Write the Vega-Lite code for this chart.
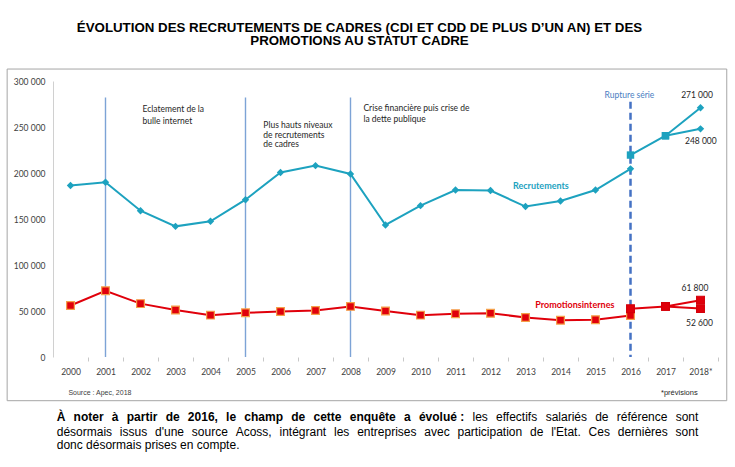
{
  "$schema": "https://vega.github.io/schema/vega-lite/v6.json",
  "width": 665,
  "height": 276,
  "autosize": {"type": "none"},
  "padding": {"left": 53, "top": 81, "right": 17, "bottom": 110},
  "background": "white",
  "title": {
    "text": ["ÉVOLUTION DES RECRUTEMENTS DE CADRES (CDI ET CDD DE PLUS D’UN AN) ET DES", "PROMOTIONS AU STATUT CADRE"],
    "font": "Liberation Sans",
    "fontSize": 13.3,
    "fontWeight": "bold",
    "color": "#000000",
    "anchor": "middle",
    "frame": "group",
    "dx": -26,
    "offset": 21,
    "lineHeight": 13.5
  },
  "config": {
    "view": {"stroke": null},
    "font": "Lato",
    "axisX": {
      "labelOverlap": false,
      "labelFlush": false,
      "labelFont": "Lato",
      "labelFontSize": 8.5,
      "labelColor": "#404040",
      "labelPadding": 6,
      "domain": false,
      "grid": false,
      "ticks": true,
      "tickColor": "#C8C8C8",
      "tickSize": 4,
      "tickOffset": 17.5,
      "labelOffset": -17.5
    },
    "axisY": {
      "labelOverlap": false,
      "labelFont": "Lato",
      "labelFontSize": 8.5,
      "labelColor": "#404040",
      "labelPadding": 8,
      "ticks": false,
      "tickSize": 0,
      "grid": false,
      "domain": true,
      "domainColor": "#D0D0D0"
    }
  },
  "datasets": {
    "series": [
      {"annee": 2000, "valeur": 186500, "indicateur": "Recrutements", "serie": "ancienne série", "trace": "R-a"},
      {"annee": 2001, "valeur": 190000, "indicateur": "Recrutements", "serie": "ancienne série", "trace": "R-a"},
      {"annee": 2002, "valeur": 159000, "indicateur": "Recrutements", "serie": "ancienne série", "trace": "R-a"},
      {"annee": 2003, "valeur": 142000, "indicateur": "Recrutements", "serie": "ancienne série", "trace": "R-a"},
      {"annee": 2004, "valeur": 147500, "indicateur": "Recrutements", "serie": "ancienne série", "trace": "R-a"},
      {"annee": 2005, "valeur": 171000, "indicateur": "Recrutements", "serie": "ancienne série", "trace": "R-a"},
      {"annee": 2006, "valeur": 200500, "indicateur": "Recrutements", "serie": "ancienne série", "trace": "R-a"},
      {"annee": 2007, "valeur": 208000, "indicateur": "Recrutements", "serie": "ancienne série", "trace": "R-a"},
      {"annee": 2008, "valeur": 199000, "indicateur": "Recrutements", "serie": "ancienne série", "trace": "R-a"},
      {"annee": 2009, "valeur": 143500, "indicateur": "Recrutements", "serie": "ancienne série", "trace": "R-a"},
      {"annee": 2010, "valeur": 164500, "indicateur": "Recrutements", "serie": "ancienne série", "trace": "R-a"},
      {"annee": 2011, "valeur": 181500, "indicateur": "Recrutements", "serie": "ancienne série", "trace": "R-a"},
      {"annee": 2012, "valeur": 181000, "indicateur": "Recrutements", "serie": "ancienne série", "trace": "R-a"},
      {"annee": 2013, "valeur": 163500, "indicateur": "Recrutements", "serie": "ancienne série", "trace": "R-a"},
      {"annee": 2014, "valeur": 169500, "indicateur": "Recrutements", "serie": "ancienne série", "trace": "R-a"},
      {"annee": 2015, "valeur": 181500, "indicateur": "Recrutements", "serie": "ancienne série", "trace": "R-a"},
      {"annee": 2016, "valeur": 204500, "indicateur": "Recrutements", "serie": "ancienne série", "trace": "R-a"},
      {"annee": 2016, "valeur": 219500, "indicateur": "Recrutements", "serie": "nouvelle série", "trace": "R-b"},
      {"annee": 2017, "valeur": 240500, "indicateur": "Recrutements", "serie": "nouvelle série", "trace": "R-b"},
      {"annee": 2018, "valeur": 271000, "indicateur": "Recrutements", "serie": "prévision", "trace": "R-b"},
      {"annee": 2017, "valeur": 240500, "indicateur": "Recrutements", "serie": "nouvelle série", "trace": "R-c"},
      {"annee": 2018, "valeur": 248000, "indicateur": "Recrutements", "serie": "prévision", "trace": "R-c"},
      {"annee": 2000, "valeur": 56000, "indicateur": "Promotions internes", "serie": "ancienne série", "trace": "P-a"},
      {"annee": 2001, "valeur": 72000, "indicateur": "Promotions internes", "serie": "ancienne série", "trace": "P-a"},
      {"annee": 2002, "valeur": 58000, "indicateur": "Promotions internes", "serie": "ancienne série", "trace": "P-a"},
      {"annee": 2003, "valeur": 51000, "indicateur": "Promotions internes", "serie": "ancienne série", "trace": "P-a"},
      {"annee": 2004, "valeur": 45500, "indicateur": "Promotions internes", "serie": "ancienne série", "trace": "P-a"},
      {"annee": 2005, "valeur": 48000, "indicateur": "Promotions internes", "serie": "ancienne série", "trace": "P-a"},
      {"annee": 2006, "valeur": 49500, "indicateur": "Promotions internes", "serie": "ancienne série", "trace": "P-a"},
      {"annee": 2007, "valeur": 50500, "indicateur": "Promotions internes", "serie": "ancienne série", "trace": "P-a"},
      {"annee": 2008, "valeur": 55000, "indicateur": "Promotions internes", "serie": "ancienne série", "trace": "P-a"},
      {"annee": 2009, "valeur": 50000, "indicateur": "Promotions internes", "serie": "ancienne série", "trace": "P-a"},
      {"annee": 2010, "valeur": 45500, "indicateur": "Promotions internes", "serie": "ancienne série", "trace": "P-a"},
      {"annee": 2011, "valeur": 47000, "indicateur": "Promotions internes", "serie": "ancienne série", "trace": "P-a"},
      {"annee": 2012, "valeur": 47500, "indicateur": "Promotions internes", "serie": "ancienne série", "trace": "P-a"},
      {"annee": 2013, "valeur": 43000, "indicateur": "Promotions internes", "serie": "ancienne série", "trace": "P-a"},
      {"annee": 2014, "valeur": 40000, "indicateur": "Promotions internes", "serie": "ancienne série", "trace": "P-a"},
      {"annee": 2015, "valeur": 40500, "indicateur": "Promotions internes", "serie": "ancienne série", "trace": "P-a"},
      {"annee": 2016, "valeur": 45000, "indicateur": "Promotions internes", "serie": "ancienne série", "trace": "P-a"},
      {"annee": 2016, "valeur": 52500, "indicateur": "Promotions internes", "serie": "nouvelle série", "trace": "P-b"},
      {"annee": 2017, "valeur": 55000, "indicateur": "Promotions internes", "serie": "nouvelle série", "trace": "P-b"},
      {"annee": 2018, "valeur": 61800, "indicateur": "Promotions internes", "serie": "prévision", "trace": "P-b"},
      {"annee": 2017, "valeur": 55000, "indicateur": "Promotions internes", "serie": "nouvelle série", "trace": "P-c"},
      {"annee": 2018, "valeur": 52600, "indicateur": "Promotions internes", "serie": "prévision", "trace": "P-c"}
    ],
    "evenements": [
      {"annee": 2001, "haut": 282000, "bas": 0},
      {"annee": 2005, "haut": 282000, "bas": 0},
      {"annee": 2008, "haut": 282000, "bas": 0}
    ],
    "rupture": [{"annee": 2016, "haut": 277500, "bas": 0}],
    "textes_evenements": [
      {"annee": 2002.06, "valeur": 273400, "texte": "Eclatement de la\nbulle internet"},
      {"annee": 2008.37, "valeur": 275500, "texte": "Crise financière puis crise de\nla dette publique"}
    ],
    "texte_pic": [
      {"annee": 2005.51, "valeur": 256000, "texte": "Plus hauts niveaux\nde recrutements\nde cadres"}
    ],
    "valeurs_2018": [
      {"annee": 2017.9, "valeur": 284800, "texte": "271 000"},
      {"annee": 2018.01, "valeur": 234800, "texte": "248 000"},
      {"annee": 2017.84, "valeur": 75300, "texte": "61 800"},
      {"annee": 2017.97, "valeur": 37300, "texte": "52 600"}
    ],
    "etiquettes_series": [
      {"annee": 2013.44, "valeur": 186200, "texte": "Recrutements", "indicateur": "Recrutements"},
      {"annee": 2014.41, "valeur": 56500, "texte": "Promotionsinternes", "indicateur": "Promotions internes"}
    ],
    "note_gras": [
      {"annee": 1999.606, "valeur": -64900, "texte": "À"},
      {"annee": 2000.088, "valeur": -64900, "texte": "noter"},
      {"annee": 2001.181, "valeur": -64900, "texte": "à"},
      {"annee": 2001.607, "valeur": -64900, "texte": "partir"},
      {"annee": 2002.718, "valeur": -64900, "texte": "de"},
      {"annee": 2003.353, "valeur": -64900, "texte": "2016,"},
      {"annee": 2004.446, "valeur": -64900, "texte": "le"},
      {"annee": 2004.967, "valeur": -64900, "texte": "champ"},
      {"annee": 2006.307, "valeur": -64900, "texte": "de"},
      {"annee": 2006.943, "valeur": -64900, "texte": "cette"},
      {"annee": 2007.978, "valeur": -64900, "texte": "enquête"},
      {"annee": 2009.528, "valeur": -64900, "texte": "a"},
      {"annee": 2009.954, "valeur": -64900, "texte": "évolué"},
      {"annee": 2011.135, "valeur": -64900, "texte": ":"}
    ],
    "note_normal": [
      {"annee": 2011.485, "valeur": -64900, "texte": "les"},
      {"annee": 2012.158, "valeur": -64900, "texte": "effectifs"},
      {"annee": 2013.575, "valeur": -64900, "texte": "salariés"},
      {"annee": 2014.991, "valeur": -64900, "texte": "de"},
      {"annee": 2015.607, "valeur": -64900, "texte": "référence"},
      {"annee": 2017.291, "valeur": -64900, "texte": "sont"},
      {"annee": 1999.606, "valeur": -81200, "texte": "désormais"},
      {"annee": 2001.409, "valeur": -81200, "texte": "issus"},
      {"annee": 2002.415, "valeur": -81200, "texte": "d'une"},
      {"annee": 2003.466, "valeur": -81200, "texte": "source"},
      {"annee": 2004.719, "valeur": -81200, "texte": "Acoss,"},
      {"annee": 2005.971, "valeur": -81200, "texte": "intégrant"},
      {"annee": 2007.528, "valeur": -81200, "texte": "les"},
      {"annee": 2008.190, "valeur": -81200, "texte": "entreprises"},
      {"annee": 2010.109, "valeur": -81200, "texte": "avec"},
      {"annee": 2011.057, "valeur": -81200, "texte": "participation"},
      {"annee": 2013.128, "valeur": -81200, "texte": "de"},
      {"annee": 2013.733, "valeur": -81200, "texte": "l'Etat."},
      {"annee": 2014.803, "valeur": -81200, "texte": "Ces"},
      {"annee": 2015.636, "valeur": -81200, "texte": "dernières"},
      {"annee": 2017.289, "valeur": -81200, "texte": "sont"},
      {"annee": 1999.606, "valeur": -95600, "texte": "donc désormais prises en compte."}
    ],
    "vide": [{}]
  },
  "layer": [
    {
      "data": {"name": "evenements"},
      "mark": {"type": "rule", "color": "#7DA3D6", "strokeWidth": 1.4},
      "encoding": {
        "x": {
          "field": "annee",
          "type": "quantitative",
          "scale": {"domain": [1999.5, 2018.5], "nice": false, "zero": false},
          "axis": {
            "title": null,
            "values": [2000, 2001, 2002, 2003, 2004, 2005, 2006, 2007, 2008, 2009, 2010, 2011, 2012, 2013, 2014, 2015, 2016, 2017, 2018],
            "tickCount": 19,
            "labelOverlap": false,
            "labelExpr": "datum.value === 2018 ? '2018*' : '' + datum.value"
          }
        },
        "y": {
          "field": "haut",
          "type": "quantitative",
          "scale": {"domain": [0, 300000], "nice": false, "zero": true},
          "axis": {
            "title": null,
            "values": [0, 50000, 100000, 150000, 200000, 250000, 300000],
            "labelExpr": "replace(format(datum.value, ','), regexp(',', 'g'), ' ')"
          }
        },
        "y2": {"field": "bas"}
      }
    },
    {
      "data": {"name": "vide"},
      "mark": {"type": "rect", "filled": false, "stroke": "#A6A6A6", "strokeWidth": 1, "clip": false},
      "encoding": {
        "x": {"datum": 1998.19, "type": "quantitative"},
        "x2": {"datum": 2018.75},
        "y": {"datum": 313000, "type": "quantitative"},
        "y2": {"datum": -47500}
      }
    },
    {
      "data": {"name": "rupture"},
      "mark": {"type": "rule", "color": "#4472C4", "strokeWidth": 2.5, "strokeDash": [7, 4]},
      "encoding": {
        "x": {"field": "annee", "type": "quantitative"},
        "y": {"field": "haut", "type": "quantitative"},
        "y2": {"field": "bas"}
      }
    },
    {
      "data": {"name": "series"},
      "mark": {"type": "line", "strokeWidth": 2},
      "encoding": {
        "x": {"field": "annee", "type": "quantitative"},
        "y": {"field": "valeur", "type": "quantitative"},
        "detail": {"field": "trace"},
        "color": {
          "field": "indicateur",
          "type": "nominal",
          "scale": {"domain": ["Recrutements", "Promotions internes"], "range": ["#1DA2BF", "#E0000B"]},
          "legend": null
        }
      }
    },
    {
      "data": {"name": "series"},
      "transform": [{"filter": "datum.indicateur === 'Recrutements'"}],
      "mark": {"type": "point", "filled": true, "opacity": 1, "size": 55},
      "encoding": {
        "x": {"field": "annee", "type": "quantitative"},
        "y": {"field": "valeur", "type": "quantitative"},
        "color": {"field": "indicateur", "type": "nominal", "legend": null},
        "shape": {
          "field": "serie",
          "type": "nominal",
          "scale": {"domain": ["ancienne série", "nouvelle série", "prévision"], "range": ["diamond", "square", "diamond"]},
          "legend": null
        }
      }
    },
    {
      "data": {"name": "series"},
      "transform": [{"filter": "datum.indicateur === 'Promotions internes'"}],
      "mark": {"type": "point", "filled": true, "opacity": 1, "shape": "square", "size": 60, "strokeWidth": 1.2},
      "encoding": {
        "x": {"field": "annee", "type": "quantitative"},
        "y": {"field": "valeur", "type": "quantitative"},
        "color": {"field": "indicateur", "type": "nominal", "legend": null},
        "stroke": {
          "field": "serie",
          "type": "nominal",
          "scale": {"domain": ["ancienne série", "nouvelle série", "prévision"], "range": ["#F5A04A", "#D4000A", "#D4000A"]},
          "legend": null
        }
      }
    },
    {
      "data": {"name": "textes_evenements"},
      "mark": {"type": "text", "align": "left", "baseline": "top", "font": "Lato", "fontSize": 8.5, "color": "#262626", "lineBreak": "\n", "lineHeight": 11.5},
      "encoding": {
        "x": {"field": "annee", "type": "quantitative"},
        "y": {"field": "valeur", "type": "quantitative"},
        "text": {"field": "texte"}
      }
    },
    {
      "data": {"name": "texte_pic"},
      "mark": {"type": "text", "align": "left", "baseline": "top", "font": "Lato", "fontSize": 8.5, "color": "#262626", "lineBreak": "\n", "lineHeight": 9.3},
      "encoding": {
        "x": {"field": "annee", "type": "quantitative"},
        "y": {"field": "valeur", "type": "quantitative"},
        "text": {"field": "texte"}
      }
    },
    {
      "data": {"name": "vide"},
      "mark": {"type": "text", "align": "center", "baseline": "middle", "font": "Lato", "fontSize": 8.5, "color": "#4A7EC2", "text": "Rupture série"},
      "encoding": {
        "x": {"datum": 2015.97, "type": "quantitative"},
        "y": {"datum": 284800, "type": "quantitative"}
      }
    },
    {
      "data": {"name": "valeurs_2018"},
      "mark": {"type": "text", "align": "center", "baseline": "middle", "font": "Lato", "fontSize": 8.5, "color": "#262626"},
      "encoding": {
        "x": {"field": "annee", "type": "quantitative"},
        "y": {"field": "valeur", "type": "quantitative"},
        "text": {"field": "texte"}
      }
    },
    {
      "data": {"name": "etiquettes_series"},
      "mark": {"type": "text", "align": "center", "baseline": "middle", "font": "Lato", "fontSize": 9, "fontWeight": "bold"},
      "encoding": {
        "x": {"field": "annee", "type": "quantitative"},
        "y": {"field": "valeur", "type": "quantitative"},
        "text": {"field": "texte"},
        "color": {"field": "indicateur", "type": "nominal", "legend": null}
      }
    },
    {
      "data": {"name": "vide"},
      "mark": {"type": "text", "align": "left", "baseline": "middle", "font": "Liberation Sans", "fontSize": 7, "color": "#404040", "text": "Source : Apec, 2018"},
      "encoding": {
        "x": {"datum": 1999.94, "type": "quantitative"},
        "y": {"datum": -39500, "type": "quantitative"}
      }
    },
    {
      "data": {"name": "vide"},
      "mark": {"type": "text", "align": "right", "baseline": "middle", "font": "Liberation Sans", "fontSize": 7.5, "color": "#262626", "text": "*prévisions"},
      "encoding": {
        "x": {"datum": 2017.92, "type": "quantitative"},
        "y": {"datum": -38800, "type": "quantitative"}
      }
    },
    {
      "data": {"name": "note_gras"},
      "mark": {"type": "text", "align": "left", "baseline": "middle", "font": "Liberation Sans", "fontSize": 12, "fontWeight": "bold", "color": "#000000"},
      "encoding": {
        "x": {"field": "annee", "type": "quantitative"},
        "y": {"field": "valeur", "type": "quantitative"},
        "text": {"field": "texte"}
      }
    },
    {
      "data": {"name": "note_normal"},
      "mark": {"type": "text", "align": "left", "baseline": "middle", "font": "Liberation Sans", "fontSize": 12, "color": "#000000"},
      "encoding": {
        "x": {"field": "annee", "type": "quantitative"},
        "y": {"field": "valeur", "type": "quantitative"},
        "text": {"field": "texte"}
      }
    }
  ]
}
